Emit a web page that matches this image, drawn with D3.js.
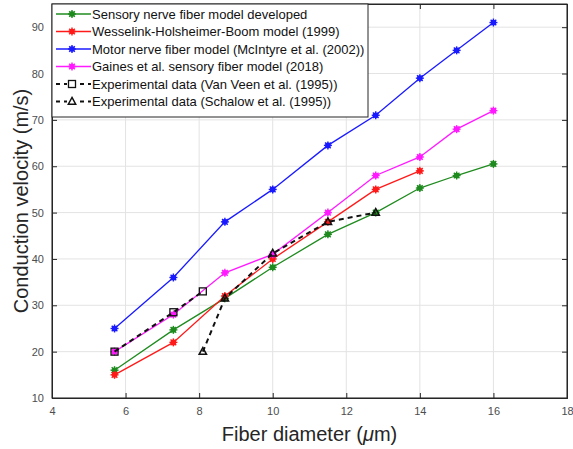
<!DOCTYPE html>
<meta charset="utf-8">
<style>
body { margin: 0; background: #fff; font-family: "Liberation Sans", Arial, sans-serif; }
.grid line { stroke: #e3e3e3; stroke-width: 1; }
.tick text { fill: #4d4d4d; font-size: 11px; }
</style>
<body>
<svg width="573" height="449"></svg>
<script src="https://cdn.jsdelivr.net/npm/d3@7"></script>
<script>
// data
var xModel = [5.7, 7.3, 8.7, 10, 11.5, 12.8, 14, 15, 16];
var sensory = [16, 24.7, 31.5, 38.2, 45.3, 50, 55.3, 58, 60.5];
var wesselink = [15, 22, 32, 40, 48, 55, 59];
var mcintyre = [25, 36, 48, 55, 64.5, 71, 79, 85, 91];
var gaines = [20, 28, 37, 41, 50, 58, 62, 68, 72];
var xVanVeen = [5.7, 7.3, 8.1];
var vanVeen = [20, 28.5, 33];
var xSchalow = [8.1, 8.7, 10, 11.5, 12.8];
var schalow = [20, 31.5, 41.2, 48, 50];
var xTicks = [4, 6, 8, 10, 12, 14, 16, 18];
var yTicks = [10, 20, 30, 40, 50, 60, 70, 80, 90];

var series = [
  {name: "Sensory nerve fiber model developed", xs: xModel, ys: sensory, color: "#1f8b1f", marker: "star", dash: null},
  {name: "Wesselink-Holsheimer-Boom model (1999)", xs: xModel, ys: wesselink, color: "#ff1a1a", marker: "star", dash: null},
  {name: "Motor nerve fiber model (McIntyre et al. (2002))", xs: xModel, ys: mcintyre, color: "#1a1aff", marker: "star", dash: null},
  {name: "Gaines et al. sensory fiber model (2018)", xs: xModel, ys: gaines, color: "#ff1aff", marker: "star", dash: null},
  {name: "Experimental data (Van Veen et al. (1995))", xs: xVanVeen, ys: vanVeen, color: "#111", marker: "square", dash: "5,4"},
  {name: "Experimental data (Schalow et al. (1995))", xs: xSchalow, ys: schalow, color: "#111", marker: "triangle", dash: "5,4"}
];

var svg = d3.select("svg"),
    margin = {top: 4, right: 6, bottom: 51, left: 52},
    width = 573 - margin.left - margin.right,
    height = 449 - margin.top - margin.bottom;

var x = d3.scaleLinear().domain([4, 18]).range([0, width]),
    y = d3.scaleLinear().domain([10, 95]).range([height, 0]);

var g = svg.append("g").attr("transform", "translate(" + margin.left + "," + margin.top + ")");

// grid
g.append("g").attr("class", "grid")
  .selectAll("line.v").data(xTicks).enter().append("line")
    .attr("x1", function(d) { return x(d); }).attr("x2", function(d) { return x(d); })
    .attr("y1", 0).attr("y2", height);
g.append("g").attr("class", "grid")
  .selectAll("line.h").data(yTicks).enter().append("line")
    .attr("x1", 0).attr("x2", width)
    .attr("y1", function(d) { return y(d); }).attr("y2", function(d) { return y(d); });

// axes, ticks pointing inward like matlab
var xAxis = g.append("g").attr("transform", "translate(0," + height + ")")
  .call(d3.axisBottom(x).tickValues(xTicks).tickSize(-5).tickPadding(9));
var yAxis = g.append("g")
  .call(d3.axisLeft(y).tickValues(yTicks).tickSize(-5).tickPadding(8));
var xTop = g.append("g")
  .call(d3.axisTop(x).tickValues(xTicks).tickSize(-5).tickFormat(""));
var yRight = g.append("g").attr("transform", "translate(" + width + ",0)")
  .call(d3.axisRight(y).tickValues(yTicks).tickSize(-5).tickFormat(""));
[xAxis, yAxis, xTop, yRight].forEach(function(a) {
  a.selectAll("path").attr("stroke", "#262626");
  a.selectAll("line").attr("stroke", "#262626");
});

function drawMarker(sel, type, color, s) {
  if (type === "star") {
    sel.append("circle").attr("r", s * 0.7).attr("fill", color);
    [0, 45, 90, 135].forEach(function(a) {
      var r = a * Math.PI / 180;
      sel.append("line")
        .attr("x1", -s * Math.cos(r)).attr("y1", -s * Math.sin(r))
        .attr("x2", s * Math.cos(r)).attr("y2", s * Math.sin(r))
        .attr("stroke", color).attr("stroke-width", 1.4);
    });
  } else if (type === "square") {
    sel.append("rect").attr("x", -s).attr("y", -s).attr("width", 2 * s).attr("height", 2 * s)
      .attr("fill", "none").attr("stroke", color).attr("stroke-width", 1.3);
  } else {
    sel.append("path").attr("d", "M0," + (-s * 1.15) + "L" + (s * 1.05) + "," + (s * 0.75) + "L" + (-s * 1.05) + "," + (s * 0.75) + "Z")
      .attr("fill", "none").attr("stroke", color).attr("stroke-width", 1.5);
  }
}

var line = d3.line().x(function(d) { return x(d[0]); }).y(function(d) { return y(d[1]); });

series.forEach(function(s) {
  var pts = s.ys.map(function(v, i) { return [s.xs[i], v]; });
  g.append("path").datum(pts)
    .attr("d", line).attr("fill", "none")
    .attr("stroke", s.color)
    .attr("stroke-width", s.dash ? 2 : 1.3)
    .attr("stroke-dasharray", s.dash);
  pts.forEach(function(p) {
    var m = g.append("g").attr("transform", "translate(" + x(p[0]) + "," + y(p[1]) + ")");
    drawMarker(m, s.marker, s.color, s.marker === "star" ? 4 : 3.5);
  });
});

// box on top
g.append("rect").attr("width", width).attr("height", height)
  .attr("fill", "none").attr("stroke", "#262626").attr("stroke-width", 1);

// legend
var leg = g.append("g");
leg.append("rect").attr("x", 0).attr("y", 0).attr("width", 316).attr("height", 113)
  .attr("fill", "#fff").attr("stroke", "#262626").attr("stroke-width", 1);
series.forEach(function(s, i) {
  var row = leg.append("g").attr("transform", "translate(0," + (10 + i * 17.5) + ")");
  row.append("line").attr("x1", 4).attr("x2", 39).attr("y1", 0).attr("y2", 0)
    .attr("stroke", s.color).attr("stroke-width", s.dash ? 2 : 1.3)
    .attr("stroke-dasharray", s.dash ? "4,4" : null);
  var m = row.append("g").attr("transform", "translate(20,0)");
  if (s.dash) m.append("rect").attr("x", -5).attr("y", -5).attr("width", 10).attr("height", 10).attr("fill", "#fff");
  drawMarker(m, s.marker, s.color, s.marker === "star" ? 4 : 3.5);
  row.append("text").attr("x", 40).attr("y", 0).attr("dy", "0.35em")
    .attr("font-size", "13px").attr("fill", "#111").text(s.name);
});

// axis labels
svg.append("text")
  .attr("x", margin.left + x(11)).attr("y", 441)
  .attr("text-anchor", "middle").attr("font-size", "20px").attr("fill", "#262626")
  .html('Fiber diameter (<tspan font-style="italic">μ</tspan>m)');
svg.append("text")
  .attr("transform", "translate(28," + (margin.top + y(52.5)) + ") rotate(-90)")
  .attr("text-anchor", "middle").attr("font-size", "20px").attr("fill", "#262626")
  .text("Conduction velocity (m/s)");
</script>
</body>
